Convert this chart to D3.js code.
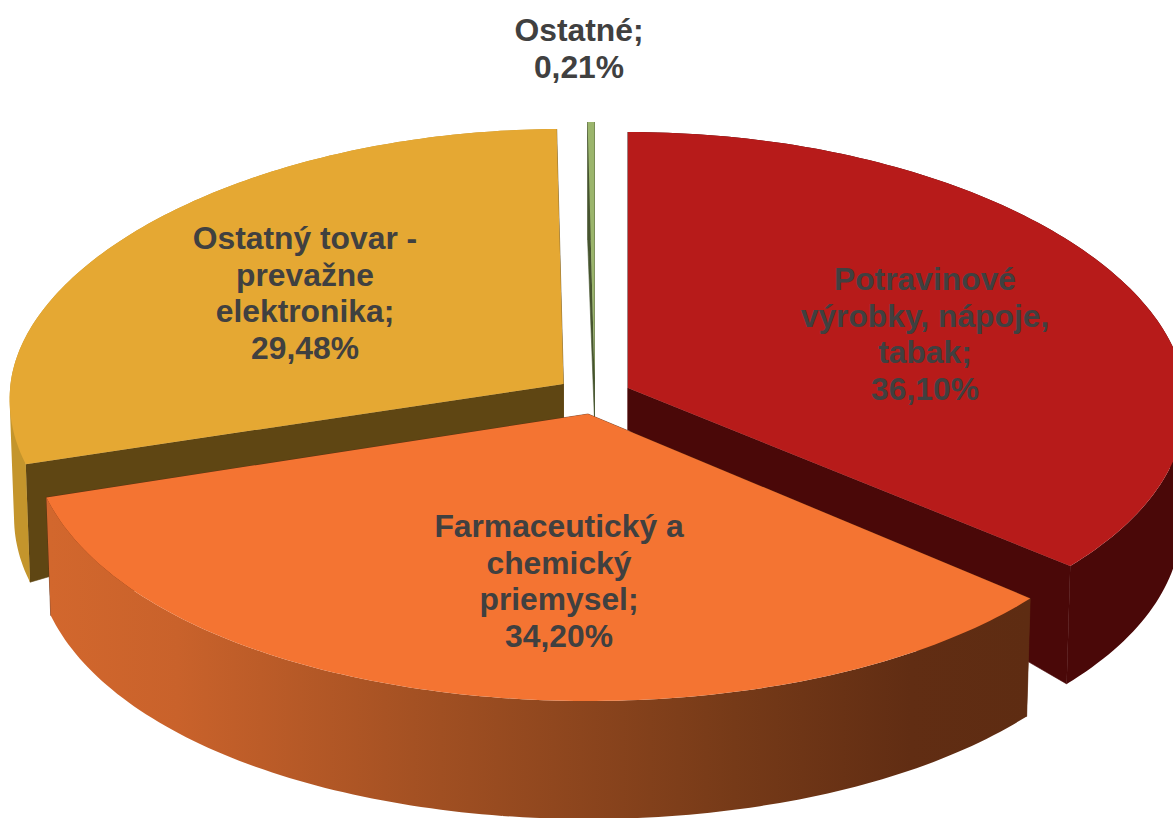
<!DOCTYPE html>
<html lang="sk">
<head>
<meta charset="utf-8">
<title>Štruktúra tovaru</title>
<script src="https://cdn.jsdelivr.net/npm/d3@7"></script>
<style>
  html, body { margin: 0; padding: 0; background: #fff; overflow: hidden; }
  svg { display: block; }
  text { font-family: "Liberation Sans", Arial, sans-serif; font-weight: bold; font-size: 31.8px; fill: #404040; text-anchor: middle; }
</style>
</head>
<body>
<svg id="chart" width="1173" height="818"></svg>
<script>
// ─── Data ─────────────────────────────────────────────────────────────────────
const categories = ['Potravinové výrobky, nápoje, tabak', 'Farmaceutický a chemický priemysel', 'Ostatný tovar - prevažne elektronika', 'Ostatné'];
const values     = [36.10, 34.20, 29.48, 0.21];
const labelLines = [
  ['Potravinové', 'výrobky, nápoje,', 'tabak;'],
  ['Farmaceutický a', 'chemický', 'priemysel;'],
  ['Ostatný tovar -', 'prevažne', 'elektronika;'],
  ['Ostatné;']
];

// ─── Colours ──────────────────────────────────────────────────────────────────
const topColors  = ['#b71b1a', '#f47432', '#e5a833', '#9bb56c'];
const wallColors = ['#4a0808', '#5e2c12', '#5f4613', '#47552f'];
const sideColors = ['#4a0808', 'url(#orange-side)', '#c4952c', '#47552f'];

// ─── Layout: exploded slices, seen in perspective ─────────────────────────────
const apexX   = [628, 588, 563.5, 594.5];
const apexY   = [388, 414, 384, 378];
const radX    = [557, 557, 553, 555];
const radBack = [256, 256, 255, 256];   // vertical radius behind the apex
const radFront= [277, 287, 276, 276];   // vertical radius in front of the apex
const widen   = 0.056;                  // front of the pie is closer, so wider
const labelX  = [925, 559, 305, 579];
const labelY  = [290, 537, 249, 41];
const lineGap = 36.6;
const depthAtApex = 42, depthAtRim = 118, bottomShrink = 0.992;

const svg = d3.select('#chart');
const fmt = d3.formatLocale({ decimal: ',', thousands: ' ', grouping: [3], currency: ['', ''] }).format('.2f');
const pie = d3.pie().value(d => d).sort(null).startAngle(0).endAngle(2 * Math.PI);
const arcs = pie(values);
const line = d3.line();

const defs = svg.append('defs');
const grad = defs.append('linearGradient').attr('id', 'orange-side')
  .attr('gradientUnits', 'userSpaceOnUse').attr('x1', 50).attr('x2', 1028).attr('y1', 0).attr('y2', 0);
[[0, '#d2672d'], [0.13, '#c9622b'], [0.4, '#a04f22'], [0.7, '#763a18'], [0.88, '#612d13'], [1, '#5e2c12']]
  .forEach(([o, c]) => grad.append('stop').attr('offset', o).attr('stop-color', c));

// point on the top face; t = 0 at the apex, 1 on the rim
function topPoint(i, a, t) {
  const ry = Math.cos(a) >= 0 ? radBack[i] : radFront[i];
  const rx = radX[i] * (1 - widen * Math.cos(a));
  return [apexX[i] + t * rx * Math.sin(a), apexY[i] - t * ry * Math.cos(a)];
}
// same point on the underside
function bottomPoint(i, a, t) {
  const [x, y] = topPoint(i, a, t);
  return [apexX[i] + (x - apexX[i]) * bottomShrink, y + depthAtApex + (depthAtRim - depthAtApex) * t];
}
function rim(i, d, fn) {
  return d3.range(0, 121).map(k => fn(i, d.startAngle + (d.endAngle - d.startAngle) * k / 120, 1));
}
// outer side as strips all wound the same way, so the silhouette fills where the rim turns
function sidePath(i) {
  const top = rim(i, arcs[i], topPoint), bot = rim(i, arcs[i], bottomPoint);
  return d3.range(0, 120).map(k => {
    const quad = [top[k], top[k + 1], bot[k + 1], bot[k]];
    if (d3.polygonArea(quad) < 0) quad.reverse();
    return line(quad) + 'Z';
  }).join('');
}

// back to front: yellow, green, red, orange
const order = [2, 3, 0, 1];
const slices = svg.selectAll('g.slice').data(order).enter().append('g').attr('class', 'slice');

slices.selectAll('path.wall')
  .data(i => [[i, arcs[i].startAngle], [i, arcs[i].endAngle]])
  .enter().append('path').attr('class', 'wall')
  .attr('fill', d => wallColors[d[0]])
  .attr('stroke', d => wallColors[d[0]]).attr('stroke-width', 0.6)
  .attr('d', ([i, a]) => line([topPoint(i, a, 0), topPoint(i, a, 1), bottomPoint(i, a, 1), bottomPoint(i, a, 0)]) + 'Z');

slices.append('path') // outer side
  .attr('fill', i => sideColors[i])
  .attr('d', sidePath);

slices.append('path') // top face
  .attr('fill', i => topColors[i])
  .attr('d', i => line([topPoint(i, 0, 0)].concat(rim(i, arcs[i], topPoint))) + 'Z');

// ─── Labels ───────────────────────────────────────────────────────────────────
const labels = svg.selectAll('text.label').data(categories).enter().append('text')
  .attr('class', 'label')
  .attr('y', (d, i) => labelY[i]);
labels.selectAll('tspan')
  .data((d, i) => labelLines[i].concat(fmt(values[i]) + '%').map(s => ({ s, i })))
  .enter().append('tspan')
  .attr('x', d => labelX[d.i])
  .attr('dy', (d, k) => k ? lineGap : 0)
  .text(d => d.s);
</script>
</body>
</html>
